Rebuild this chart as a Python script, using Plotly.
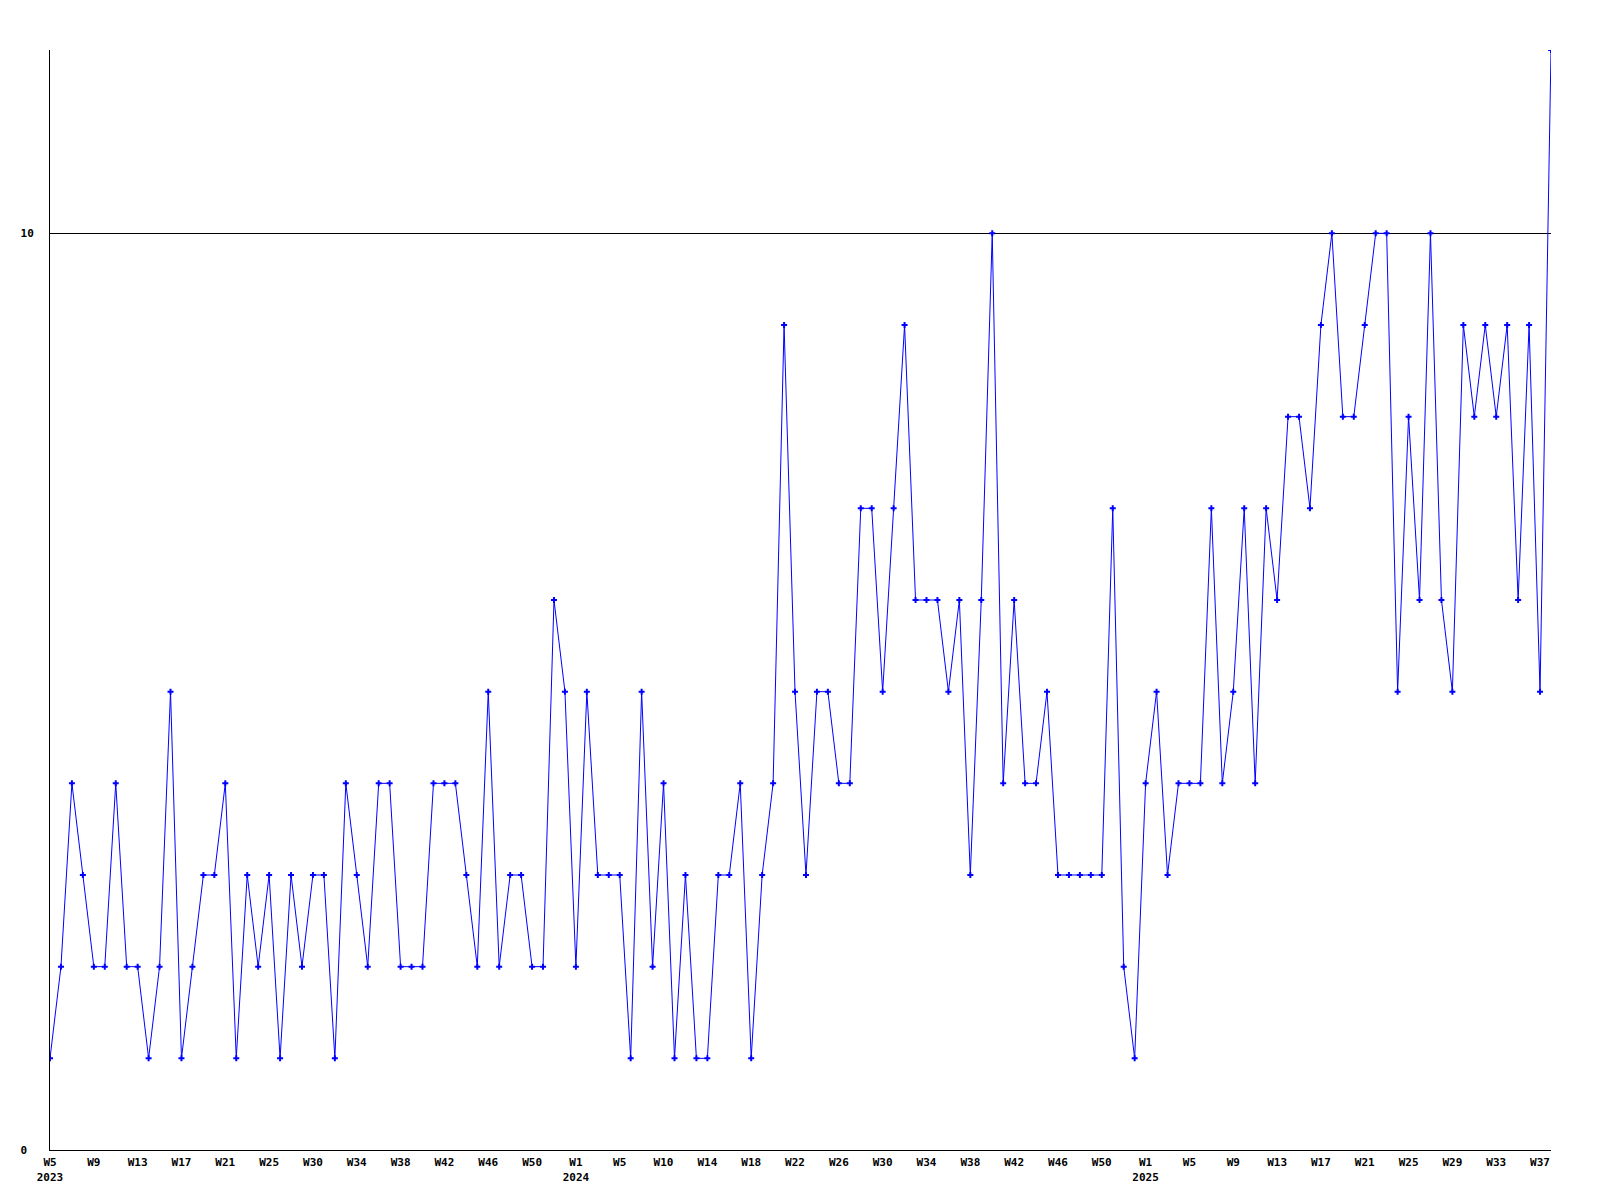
"""Weekly counts line chart, 2023-W05 .. 2025-W38."""
import plotly.graph_objects as go

# week categories
weeks_2023 = [f"2023-W{w:02d}" for w in range(5, 53)]
weeks_2024 = [f"2024-W{w:02d}" for w in range(1, 53)]
weeks_2025 = [f"2025-W{w:02d}" for w in range(1, 39)]

values_2023 = [1, 2, 4, 3, 2, 2, 4, 2, 2, 1, 2, 5, 1, 2, 3, 3, 4, 1, 3, 2,
               3, 1, 3, 2, 3, 3, 1, 4, 3, 2, 4, 4, 2, 2, 2, 4, 4, 4, 3, 2,
               5, 2, 3, 3, 2, 2, 6, 5]
values_2024 = [2, 5, 3, 3, 3, 1, 5, 2, 4, 1, 3, 1, 1, 3, 3, 4, 1, 3, 4, 9,
               5, 3, 5, 5, 4, 4, 7, 7, 5, 7, 9, 6, 6, 6, 5, 6, 3, 6, 10, 4,
               6, 4, 4, 5, 3, 3, 3, 3, 3, 7, 2, 1]
values_2025 = [4, 5, 3, 4, 4, 4, 7, 4, 5, 7, 4, 7, 6, 8, 8, 7, 9, 10, 8, 8,
               9, 10, 10, 5, 8, 6, 10, 6, 5, 9, 8, 9, 8, 9, 6, 9, 5, 12]

tick_text = ["W5<br>2023", "W9", "W13", "W17", "W21", "W25", "W30", "W34",
             "W38", "W42", "W46", "W50",
             "W1<br>2024", "W5", "W10", "W14", "W18", "W22", "W26", "W30",
             "W34", "W38", "W42", "W46", "W50",
             "W1<br>2025", "W5", "W9", "W13", "W17", "W21", "W25", "W29",
             "W33", "W37"]

y_tick_vals = [0, 10]
y_tick_text = ["0\u00a0", "10"]

weeks = weeks_2023 + weeks_2024 + weeks_2025
values = values_2023 + values_2024 + values_2025
tick_vals = weeks[::4]

font = dict(family="DejaVu Sans Mono", size=11, color="#000000", weight="bold")

fig = go.Figure()
fig.add_trace(go.Scatter(
    x=weeks,
    y=values,
    mode="lines+markers",
    line=dict(color="#0000ff", width=1),
    marker=dict(symbol="cross", size=5, color="#0000ff", line=dict(width=0)),
    hoverinfo="skip",
))

# page body has an 8px margin, so the figure is sized to fit inside the window
fig.update_layout(
    template="none",
    width=1584,
    height=1184,
    showlegend=False,
    plot_bgcolor="white",
    paper_bgcolor="white",
    margin=dict(l=42, r=41, t=42, b=42, pad=0),
    font=font,
)

fig.update_xaxes(
    type="category",
    automargin=False,
    range=[0, len(weeks) - 1],
    tickmode="array",
    tickvals=tick_vals,
    ticktext=tick_text,
    tickangle=0,
    ticks="",
    ticklabelstandoff=2,
    showgrid=False,
    zeroline=False,
    showline=True,
    linecolor="#000000",
    linewidth=1,
    tickfont=font,
)

fig.update_yaxes(
    automargin=False,
    range=[0, 12],
    tickmode="array",
    tickvals=y_tick_vals,
    ticktext=y_tick_text,
    ticks="",
    ticklabelstandoff=13,
    showgrid=True,
    gridcolor="#000000",
    gridwidth=1,
    zeroline=False,
    showline=True,
    linecolor="#000000",
    linewidth=1,
    tickfont=font,
)

fig.write_html("out.html")
